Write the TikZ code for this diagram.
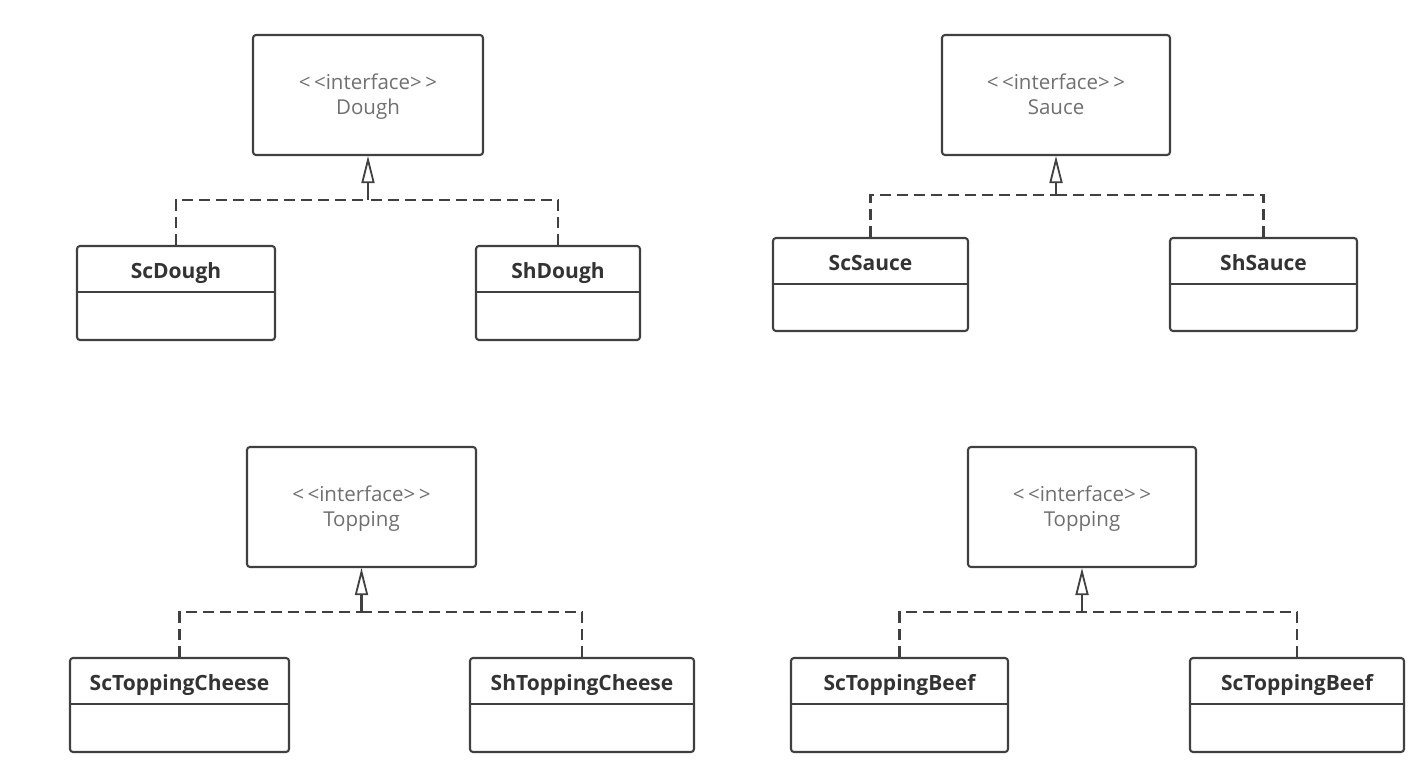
\documentclass[tikz,border=0pt]{standalone}
\usepackage{fontspec}
\setmainfont{Open Sans}
\usetikzlibrary{arrows.meta,calc}
\definecolor{linec}{HTML}{404040}
\definecolor{ifacetext}{HTML}{707070}
\definecolor{clstext}{HTML}{333333}
\begin{document}
\begin{tikzpicture}[x=1pt,y=-1pt,
  iface/.style 2 args={draw=linec, line width=2.1pt, rounded corners=3pt,
    minimum width=#1, minimum height=#2, inner sep=0pt, align=center,
    text height=79pt, text depth=41pt,
    text=ifacetext, font=\fontsize{20.5}{24.5}\selectfont},
  cls/.style 2 args={draw=linec, line width=2.1pt, rounded corners=3pt,
    minimum width=#1, inner sep=0pt, text height=32pt, text depth=#2,
    text=clstext, font=\fontsize{21}{24}\selectfont\bfseries},
  dline/.style={draw=linec, line width=2.1pt, dash pattern=on 11pt off 6pt},
  real/.style={draw=linec, line width=2.1pt,
    -{Triangle[open, length=27pt, width=13pt, line width=1.8pt]}},
  divider/.style={draw=linec, line width=2.1pt}
]
\fill[white] (0,0) rectangle (1425,779);
\useasboundingbox (0,0) rectangle (1425,779);

% ---------- top-left: Dough ----------
\node[iface={230pt}{120pt}] (dough) at (368,95) {<\,<interface>\,>\\Dough};
\node[cls={198pt}{62pt}] (scdough) at (176,293) {ScDough};
\node[cls={164pt}{62pt}] (shdough) at (558,293) {ShDough};
\coordinate (j1) at (368,200);
\draw[divider] ($(scdough.north west)+(0,47)$) -- ($(scdough.north east)+(0,47)$);
\draw[divider] ($(shdough.north west)+(0,47)$) -- ($(shdough.north east)+(0,47)$);
\draw[dline] (scdough.north) |- (j1);
\draw[dline] (shdough.north) |- (j1);
\draw[real] (j1) -- (dough.south);

% ---------- top-right: Sauce ----------
\node[iface={228pt}{120pt}] (sauce) at (1056,95) {<\,<interface>\,>\\Sauce};
\node[cls={195pt}{61pt}] (scsauce) at (870.5,284.5) {ScSauce};
\node[cls={187pt}{61pt}] (shsauce) at (1263.5,284.5) {ShSauce};
\coordinate (j2) at (1056,195);
\draw[divider] ($(scsauce.north west)+(0,47)$) -- ($(scsauce.north east)+(0,47)$);
\draw[divider] ($(shsauce.north west)+(0,47)$) -- ($(shsauce.north east)+(0,47)$);
\draw[dline] (scsauce.north) |- (j2);
\draw[dline] (shsauce.north) |- (j2);
\draw[real] (j2) -- (sauce.south);

% ---------- bottom-left: Topping (cheese) ----------
\node[iface={229pt}{120pt}] (topa) at (361.5,507) {<\,<interface>\,>\\Topping};
\node[cls={219pt}{62pt}] (sccheese) at (179.5,705) {ScToppingCheese};
\node[cls={224pt}{62pt}] (shcheese) at (582,705) {ShToppingCheese};
\coordinate (j3) at (361.5,612);
\draw[divider] ($(sccheese.north west)+(0,47)$) -- ($(sccheese.north east)+(0,47)$);
\draw[divider] ($(shcheese.north west)+(0,47)$) -- ($(shcheese.north east)+(0,47)$);
\draw[dline] (sccheese.north) |- (j3);
\draw[dline] (shcheese.north) |- (j3);
\draw[real] (j3) -- (topa.south);

% ---------- bottom-right: Topping (beef) ----------
\node[iface={228pt}{120pt}] (topb) at (1082,507) {<\,<interface>\,>\\Topping};
\node[cls={217pt}{62pt}] (scbeefa) at (899.5,705) {ScToppingBeef};
\node[cls={214pt}{62pt}] (scbeefb) at (1297,705) {ScToppingBeef};
\coordinate (j4) at (1082,612);
\draw[divider] ($(scbeefa.north west)+(0,47)$) -- ($(scbeefa.north east)+(0,47)$);
\draw[divider] ($(scbeefb.north west)+(0,47)$) -- ($(scbeefb.north east)+(0,47)$);
\draw[dline] (scbeefa.north) |- (j4);
\draw[dline] (scbeefb.north) |- (j4);
\draw[real] (j4) -- (topb.south);
\end{tikzpicture}
\end{document}
